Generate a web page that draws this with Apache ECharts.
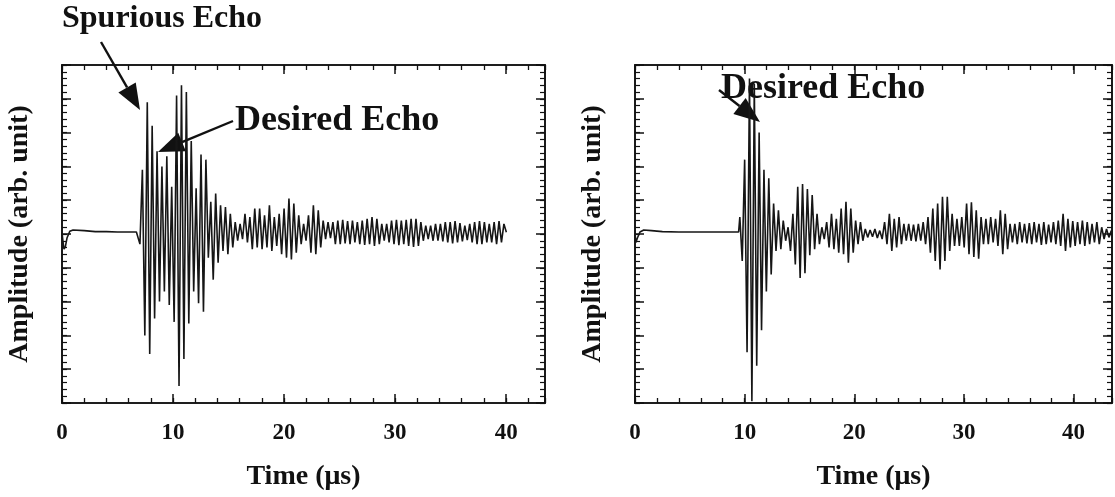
<!DOCTYPE html>
<html><head><meta charset="utf-8">
<script src="https://cdn.jsdelivr.net/npm/echarts@6/dist/echarts.min.js"></script>
<style>html,body{margin:0;padding:0;background:#fff}#c{width:1115px;height:497px}</style>
</head><body><div id="c"></div>
<script>
// ---------- data ----------
const xTicks = [0, 10, 20, 30, 40];
const DT = 0.22; // sampling step (µs) of the typed waveform samples

// left panel: quiet part [time, amplitude]
const leftPre = [[0,0.05],[0.08,-0.2],[0.18,-0.45],[0.3,-0.38],[0.45,-0.12],[0.7,0.08],[1.0,0.12],[2,0.1],[3,0.07],[4,0.07],[5,0.06],[6,0.06],[6.7,0.06]];
const leftT0 = 6.8;
const leftWave = [
 0.05,-0.3,1.9,-3.0,3.9,-3.55,3.2,-2.5,2.45,-2.0,
 2.0,-1.7,2.3,-2.1,1.4,-2.6,4.1,-4.5,4.4,-3.7,
 4.2,-2.65,2.75,-1.7,1.35,-2.05,2.35,-2.3,2.2,-0.7,
 0.95,-1.35,1.2,-0.85,0.85,-0.5,0.8,-0.6,0.6,-0.4,
 0.35,-0.2,0.3,-0.15,0.6,-0.25,0.5,-0.45,0.75,-0.4,
 0.75,-0.45,0.55,-0.4,0.85,-0.5,0.5,-0.35,0.6,-0.6,
 0.75,-0.7,1.05,-0.75,0.9,-0.55,0.55,-0.3,0.3,-0.2,
 0.55,-0.55,0.85,-0.6,0.7,-0.4,0.4,-0.15,0.35,-0.12,
 0.35,-0.3,0.4,-0.3,0.42,-0.28,0.38,-0.3,0.4,-0.25,
 0.35,-0.3,0.4,-0.32,0.45,-0.3,0.5,-0.35,0.45,-0.3,
 0.3,-0.2,0.3,-0.25,0.4,-0.3,0.42,-0.33,0.4,-0.3,
 0.42,-0.35,0.45,-0.38,0.45,-0.35,0.35,-0.2,0.25,-0.15,
 0.25,-0.2,0.3,-0.2,0.3,-0.22,0.35,-0.25,0.35,-0.28,
 0.38,-0.25,0.32,-0.22,0.25,-0.18,0.3,-0.25,0.35,-0.3,
 0.38,-0.3,0.35,-0.25,0.3,-0.25,0.35,-0.3,0.38,-0.25,
 0.3,0.05
];

// right panel
const rightPre = [[0,0.02],[0.08,-0.25],[0.22,-0.12],[0.45,0.06],[0.8,0.12],[1.5,0.1],[2.5,0.07],[4,0.06],[6,0.06],[8,0.06],[9.45,0.06]];
const rightT0 = 9.56;
const rightWave = [
 0.5,-0.8,2.2,-3.5,4.6,-4.95,4.45,-3.9,3.0,-2.85,
 1.9,-1.7,1.65,-1.2,0.9,-0.5,0.7,-0.45,0.4,-0.2,
 0.2,-0.5,0.6,-0.9,1.4,-1.3,1.48,-1.16,1.33,-0.63,
 1.15,-0.45,0.6,-0.3,0.2,-0.15,0.35,-0.4,0.6,-0.45,
 0.45,-0.55,0.75,-0.6,0.95,-0.85,0.75,-0.55,0.4,-0.3,
 0.35,-0.2,0.15,-0.1,0.12,-0.08,0.15,-0.12,0.1,-0.15,
 0.35,-0.3,0.6,-0.5,0.45,-0.4,0.5,-0.3,0.3,-0.2,
 0.3,-0.2,0.28,-0.22,0.3,-0.2,0.35,-0.3,0.5,-0.55,
 0.75,-0.8,0.9,-1.05,1.1,-0.8,1.1,-0.5,0.6,-0.35,
 0.45,-0.35,0.5,-0.4,0.9,-0.6,0.94,-0.68,0.7,-0.73,
 0.5,-0.3,0.45,-0.3,0.5,-0.25,0.45,-0.35,0.7,-0.6,
 0.6,-0.45,0.3,-0.25,0.3,-0.3,0.35,-0.25,0.3,-0.28,
 0.32,-0.3,0.35,-0.25,0.3,-0.32,0.35,-0.3,0.28,-0.25,
 0.35,-0.3,0.4,-0.35,0.6,-0.5,0.45,-0.4,0.38,-0.35,
 0.35,-0.3,0.4,-0.35,0.35,-0.3,0.3,-0.25,0.35,-0.3,
 0.2,-0.15,0.15,-0.1,0.1
];

const xLabelText = 'Time (μs)';
const yLabelText = 'Amplitude (arb. unit)';
const leftTitle = 'Spurious Echo';
const echoText = 'Desired Echo';

// ---------- build ----------
function build(pre, t0, wave){
  return pre.concat(wave.map((v,i)=>[+(t0 + i*DT).toFixed(3), v]));
}
const FONT = '"Liberation Serif","Times New Roman",serif';
const XMAX = 43.5;
const grids = [
  {left:62, top:65, width:483, height:338},
  {left:635, top:65, width:478, height:338}
];
const xAxes = [], yAxes = [];
grids.forEach((g, gi)=>{
  const line = {show:true, onZero:false, lineStyle:{color:'#111', width:1.6}};
  const base = {gridIndex:gi, type:'value', splitLine:{show:false}, axisLine:line};
  xAxes.push(Object.assign({}, base, {position:'bottom', min:0, max:XMAX, interval:10,
    axisTick:{inside:true, length:9, lineStyle:{color:'#111', width:1.5}},
    axisLabel:{color:'#111', fontFamily:FONT, fontWeight:'bold', fontSize:23, margin:19,
      formatter: v => xTicks.indexOf(v) >= 0 ? String(v) : ''},
    name:xLabelText, nameLocation:'middle', nameGap:60,
    nameTextStyle:{color:'#111', fontFamily:FONT, fontWeight:'bold', fontSize:28}}));
  xAxes.push(Object.assign({}, base, {position:'bottom', min:0, max:XMAX, interval:2, axisLabel:{show:false},
    axisTick:{inside:true, length:5, lineStyle:{color:'#111', width:1.3}}}));
  xAxes.push(Object.assign({}, base, {position:'top', min:0, max:XMAX, interval:10, axisLabel:{show:false},
    axisTick:{inside:true, length:9, lineStyle:{color:'#111', width:1.5}}}));
  xAxes.push(Object.assign({}, base, {position:'top', min:0, max:XMAX, interval:2, axisLabel:{show:false},
    axisTick:{inside:true, length:5, lineStyle:{color:'#111', width:1.3}}}));
  yAxes.push(Object.assign({}, base, {position:'left', min:-5, max:5, interval:1, axisLabel:{show:false},
    axisTick:{inside:true, length:9, lineStyle:{color:'#111', width:1.5}},
    name:yLabelText, nameLocation:'middle', nameGap:28, nameRotate:90,
    nameTextStyle:{color:'#111', fontFamily:FONT, fontWeight:'bold', fontSize:28}}));
  yAxes.push(Object.assign({}, base, {position:'left', min:-5, max:5, interval:0.2, axisLabel:{show:false},
    axisTick:{inside:true, length:5, lineStyle:{color:'#111', width:1.2}}}));
  yAxes.push(Object.assign({}, base, {position:'right', min:-5, max:5, interval:1, axisLabel:{show:false},
    axisTick:{inside:true, length:9, lineStyle:{color:'#111', width:1.5}}}));
  yAxes.push(Object.assign({}, base, {position:'right', min:-5, max:5, interval:0.2, axisLabel:{show:false},
    axisTick:{inside:true, length:5, lineStyle:{color:'#111', width:1.2}}}));
});

function arrow(x1,y1,x2,y2){
  const L=26, W=10;
  const dx=x2-x1, dy=y2-y1, d=Math.hypot(dx,dy), ux=dx/d, uy=dy/d;
  const bx=x2-ux*L, by=y2-uy*L;
  return [
    {type:'line', shape:{x1:x1,y1:y1,x2:bx,y2:by}, style:{stroke:'#111', lineWidth:2.4}},
    {type:'polygon', shape:{points:[[x2,y2],[bx-uy*W,by+ux*W],[bx+uy*W,by-ux*W]]}, style:{fill:'#111'}}
  ];
}
const graphics = [
  {type:'text', left:62, top:3, style:{text:leftTitle, font:'bold 32px '+FONT, fill:'#111'}},
  {type:'text', left:235, top:103, style:{text:echoText, font:'bold 36px '+FONT, fill:'#111'}},
  {type:'text', left:721, top:71, style:{text:echoText, font:'bold 36px '+FONT, fill:'#111'}}
].concat(arrow(101,42,140,110), arrow(233,121,158,152), arrow(719,90,760,122));

const chart = echarts.init(document.getElementById('c'));
chart.setOption({
  animation:false,
  backgroundColor:'#fff',
  grid: grids,
  xAxis: xAxes,
  yAxis: yAxes,
  series: [
    {type:'line', xAxisIndex:0, yAxisIndex:0, data:build(leftPre,leftT0,leftWave), showSymbol:false,
     lineStyle:{color:'#161616', width:1.6}},
    {type:'line', xAxisIndex:4, yAxisIndex:4, data:build(rightPre,rightT0,rightWave), showSymbol:false,
     lineStyle:{color:'#161616', width:1.6}}
  ],
  graphic: graphics
});
</script>
</body></html>
